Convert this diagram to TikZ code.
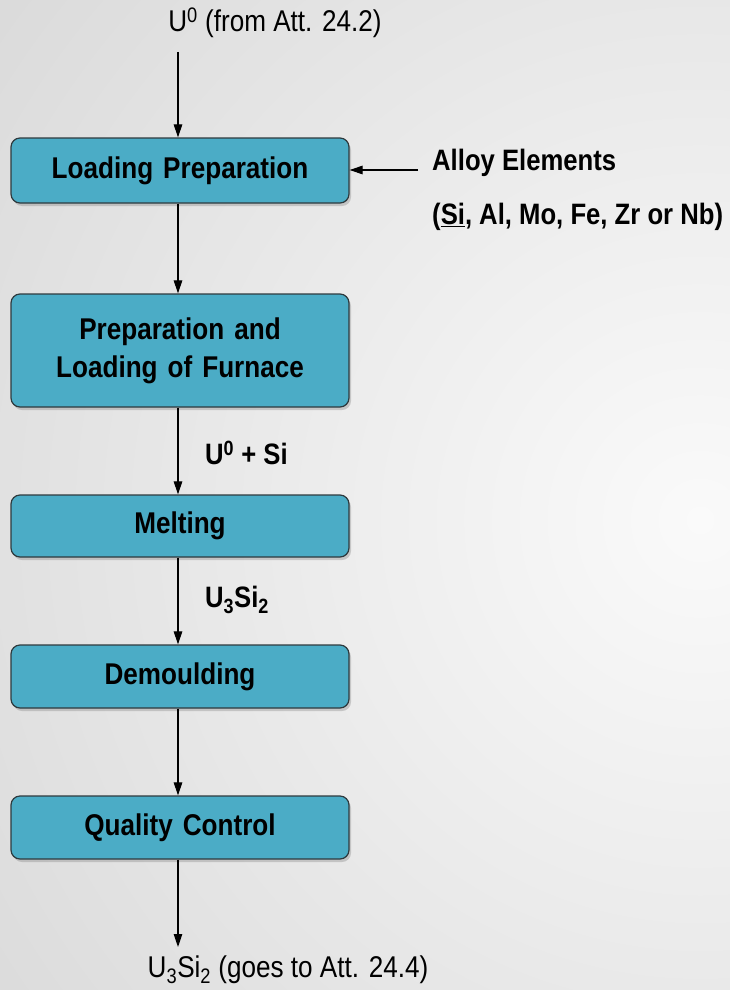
\documentclass[tikz,border=0pt]{standalone}
\usepackage{fontspec}
\setmainfont[FakeStretch=0.87]{Liberation Sans}
\usetikzlibrary{arrows.meta,shadows}
\definecolor{boxfill}{HTML}{4BACC6}
\definecolor{boxline}{HTML}{2E3A3E}
\definecolor{bgout}{HTML}{C4C4C4}
\definecolor{bgin}{HTML}{FAFAFA}
\tikzset{
  stepbox/.style={draw=boxline, line width=1.2pt, fill=boxfill, rounded corners=9pt,
    minimum width=338pt, text width=320pt, align=center, inner sep=0pt,
    font=\fontsize{30}{38}\selectfont\bfseries,
    drop shadow={shadow xshift=2pt, shadow yshift=-3pt, opacity=0.35}},
  lbl/.style={inner sep=0pt, font=\fontsize{30}{34}\selectfont},
  blbl/.style={inner sep=0pt, font=\fontsize{29.5}{34}\selectfont\bfseries},
  flow/.style={line width=1.1pt, -{Triangle[length=13pt,width=8.5pt]}}
}
\begin{document}
\begin{tikzpicture}[x=1pt,y=-1pt]
\useasboundingbox (0,0) rectangle (730,990);
\begin{scope}
\clip (0,0) rectangle (730,990);
\shade[inner color=bgin, outer color=bgout] (700,520) circle (1500);
\end{scope}
% boxes
\node[stepbox, minimum height=65pt] (lp) at (180,170.5) {Loading Preparation};
\node[stepbox, minimum height=113pt] (plf) at (180,350.5) {Preparation and\\Loading of Furnace};
\node[stepbox, minimum height=62pt] (melt) at (180,526) {Melting};
\node[stepbox, minimum height=63pt] (dem) at (180,676.5) {Demoulding};
\node[stepbox, minimum height=63pt] (qc) at (180,827.5) {Quality Control};
% texts
\node[lbl] (top) at (275,23) {U\textsuperscript{0} (from Att. 24.2)};
\node[lbl] (bot) at (288,970) {U\textsubscript{3}Si\textsubscript{2} (goes to Att. 24.4)};
\node[blbl, anchor=west] (alloy) at (432,163) {Alloy Elements};
\node[blbl, anchor=west] (alloy2) at (432,217) {(\underline{Si}, Al, Mo, Fe, Zr or Nb)};
\node[blbl, anchor=west] (l1) at (205,453) {U\textsuperscript{0} + Si};
\node[blbl, anchor=west] (l2) at (205,600) {U\textsubscript{3}Si\textsubscript{2}};
\coordinate (topc) at (178,52);
\coordinate (botc) at (178,947);
\coordinate (alc) at (418,170);
% connectors
\draw[flow] (topc) -- (topc |- lp.north);
\draw[flow] (alc) -- (lp.east |- alc);
\draw[flow] (lp.south -| topc) -- (plf.north -| topc);
\draw[flow] (plf.south -| topc) -- (melt.north -| topc);
\draw[flow] (melt.south -| topc) -- (dem.north -| topc);
\draw[flow] (dem.south -| topc) -- (qc.north -| topc);
\draw[flow] (qc.south -| topc) -- (botc);
\end{tikzpicture}
\end{document}
